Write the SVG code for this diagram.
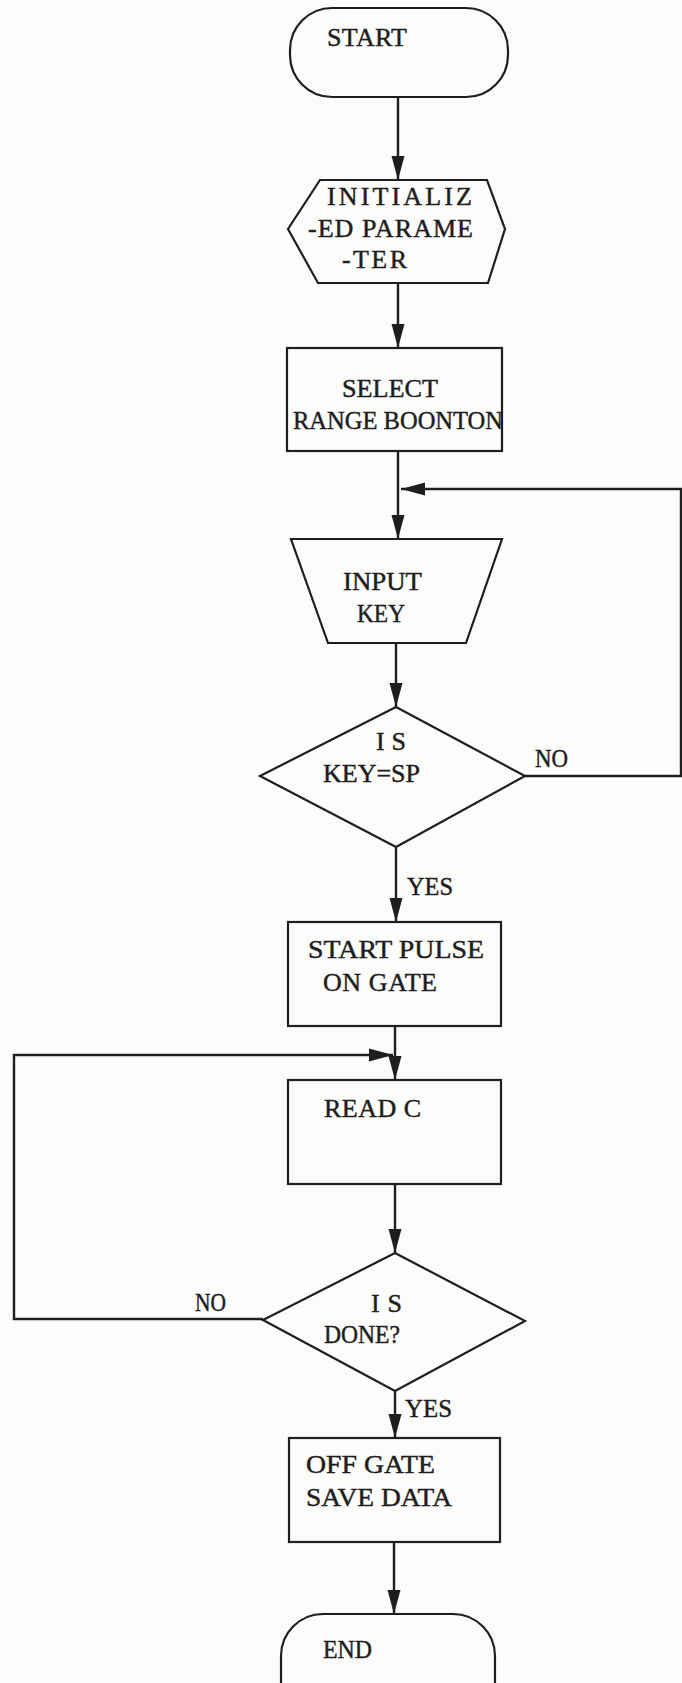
<svg xmlns="http://www.w3.org/2000/svg" width="682" height="1683" viewBox="0 0 682 1683">
<style>
.bg{fill:#fcfcfb}
.n{fill:none;stroke:#1e1e1e;stroke-width:2.2;stroke-linejoin:miter}
.c{fill:none;stroke:#1e1e1e;stroke-width:2.4}
.t{font-family:"Liberation Serif","Times New Roman",serif;font-size:26px;fill:#1e1e1e;stroke:#1e1e1e;stroke-width:0.45}
</style>
<defs>
<marker id="ah" markerUnits="userSpaceOnUse" markerWidth="24" markerHeight="14" refX="24" refY="7" orient="auto">
<path d="M0,0.5 L24,7 L0,13.5 Z" fill="#1e1e1e"/>
</marker>
</defs>
<rect class="bg" x="0" y="0" width="682" height="1683"/>
<g id="connectors">
<line class="c" x1="398" y1="97" x2="398" y2="180" marker-end="url(#ah)"/>
<line class="c" x1="398" y1="283" x2="398" y2="348" marker-end="url(#ah)"/>
<line class="c" x1="398" y1="451" x2="398" y2="539" marker-end="url(#ah)"/>
<polyline class="c" points="525,776 681,776 681,489 401,489" marker-end="url(#ah)"/>
<line class="c" x1="396" y1="643" x2="396" y2="707" marker-end="url(#ah)"/>
<line class="c" x1="396" y1="847" x2="396" y2="922" marker-end="url(#ah)"/>
<line class="c" x1="395" y1="1026" x2="395" y2="1080" marker-end="url(#ah)"/>
<line class="c" x1="395" y1="1184" x2="395" y2="1253" marker-end="url(#ah)"/>
<polyline class="c" points="263,1319 14,1319 14,1055 393,1055" marker-end="url(#ah)"/>
<line class="c" x1="395" y1="1391" x2="395" y2="1438" marker-end="url(#ah)"/>
<line class="c" x1="394" y1="1542" x2="394" y2="1614" marker-end="url(#ah)"/>
<text class="t" x="535" y="767" textLength="33" lengthAdjust="spacingAndGlyphs">NO</text>
<text class="t" x="407" y="895" textLength="46" lengthAdjust="spacingAndGlyphs">YES</text>
<text class="t" x="195" y="1311" textLength="31" lengthAdjust="spacingAndGlyphs">NO</text>
<text class="t" x="405" y="1417" textLength="47" lengthAdjust="spacingAndGlyphs">YES</text>
</g>
<g id="start">
<rect class="n" x="290" y="8" width="218" height="89" rx="42"/>
<text class="t" x="327" y="46" textLength="80">START</text>
</g>
<g id="init">
<polygon class="n" points="320,180 487,180 505,229 488,283 318,283 288,229"/>
<text class="t" x="327" y="205" textLength="145">INITIALIZ</text>
<text class="t" x="308" y="237" textLength="165">-ED PARAME</text>
<text class="t" x="342" y="268" textLength="65">-TER</text>
</g>
<g id="select">
<rect class="n" x="287" y="348" width="215" height="103"/>
<text class="t" x="342" y="397" textLength="96" lengthAdjust="spacingAndGlyphs">SELECT</text>
<text class="t" x="293" y="429" textLength="210" lengthAdjust="spacingAndGlyphs">RANGE BOONTON</text>
</g>
<g id="input">
<polygon class="n" points="291,539 502,539 466,643 328,643"/>
<text class="t" x="343" y="590" textLength="79" lengthAdjust="spacingAndGlyphs">INPUT</text>
<text class="t" x="357" y="622" textLength="48" lengthAdjust="spacingAndGlyphs">KEY</text>
</g>
<g id="iskey">
<polygon class="n" points="396,707 525,776 396,847 260,776"/>
<text class="t" x="376" y="750" textLength="30">IS</text>
<text class="t" x="323" y="782" textLength="97" lengthAdjust="spacingAndGlyphs">KEY=SP</text>
</g>
<g id="pulse">
<rect class="n" x="288" y="922" width="213" height="104"/>
<text class="t" x="308" y="958" textLength="176" lengthAdjust="spacingAndGlyphs">START PULSE</text>
<text class="t" x="323" y="991" textLength="114">ON GATE</text>
</g>
<g id="readc">
<rect class="n" x="288" y="1080" width="213" height="104"/>
<text class="t" x="324" y="1117" textLength="97">READ C</text>
</g>
<g id="isdone">
<polygon class="n" points="395,1253 525,1321 395,1391 263,1320"/>
<text class="t" x="371" y="1312" textLength="31">IS</text>
<text class="t" x="324" y="1343" textLength="76" lengthAdjust="spacingAndGlyphs">DONE?</text>
</g>
<g id="save">
<rect class="n" x="289" y="1438" width="211" height="104"/>
<text class="t" x="306" y="1473" textLength="129" lengthAdjust="spacingAndGlyphs">OFF GATE</text>
<text class="t" x="306" y="1506" textLength="146" lengthAdjust="spacingAndGlyphs">SAVE DATA</text>
</g>
<g id="end">
<rect class="n" x="281" y="1614" width="214" height="110" rx="42"/>
<text class="t" x="323" y="1658" textLength="49" lengthAdjust="spacingAndGlyphs">END</text>
</g>
</svg>
